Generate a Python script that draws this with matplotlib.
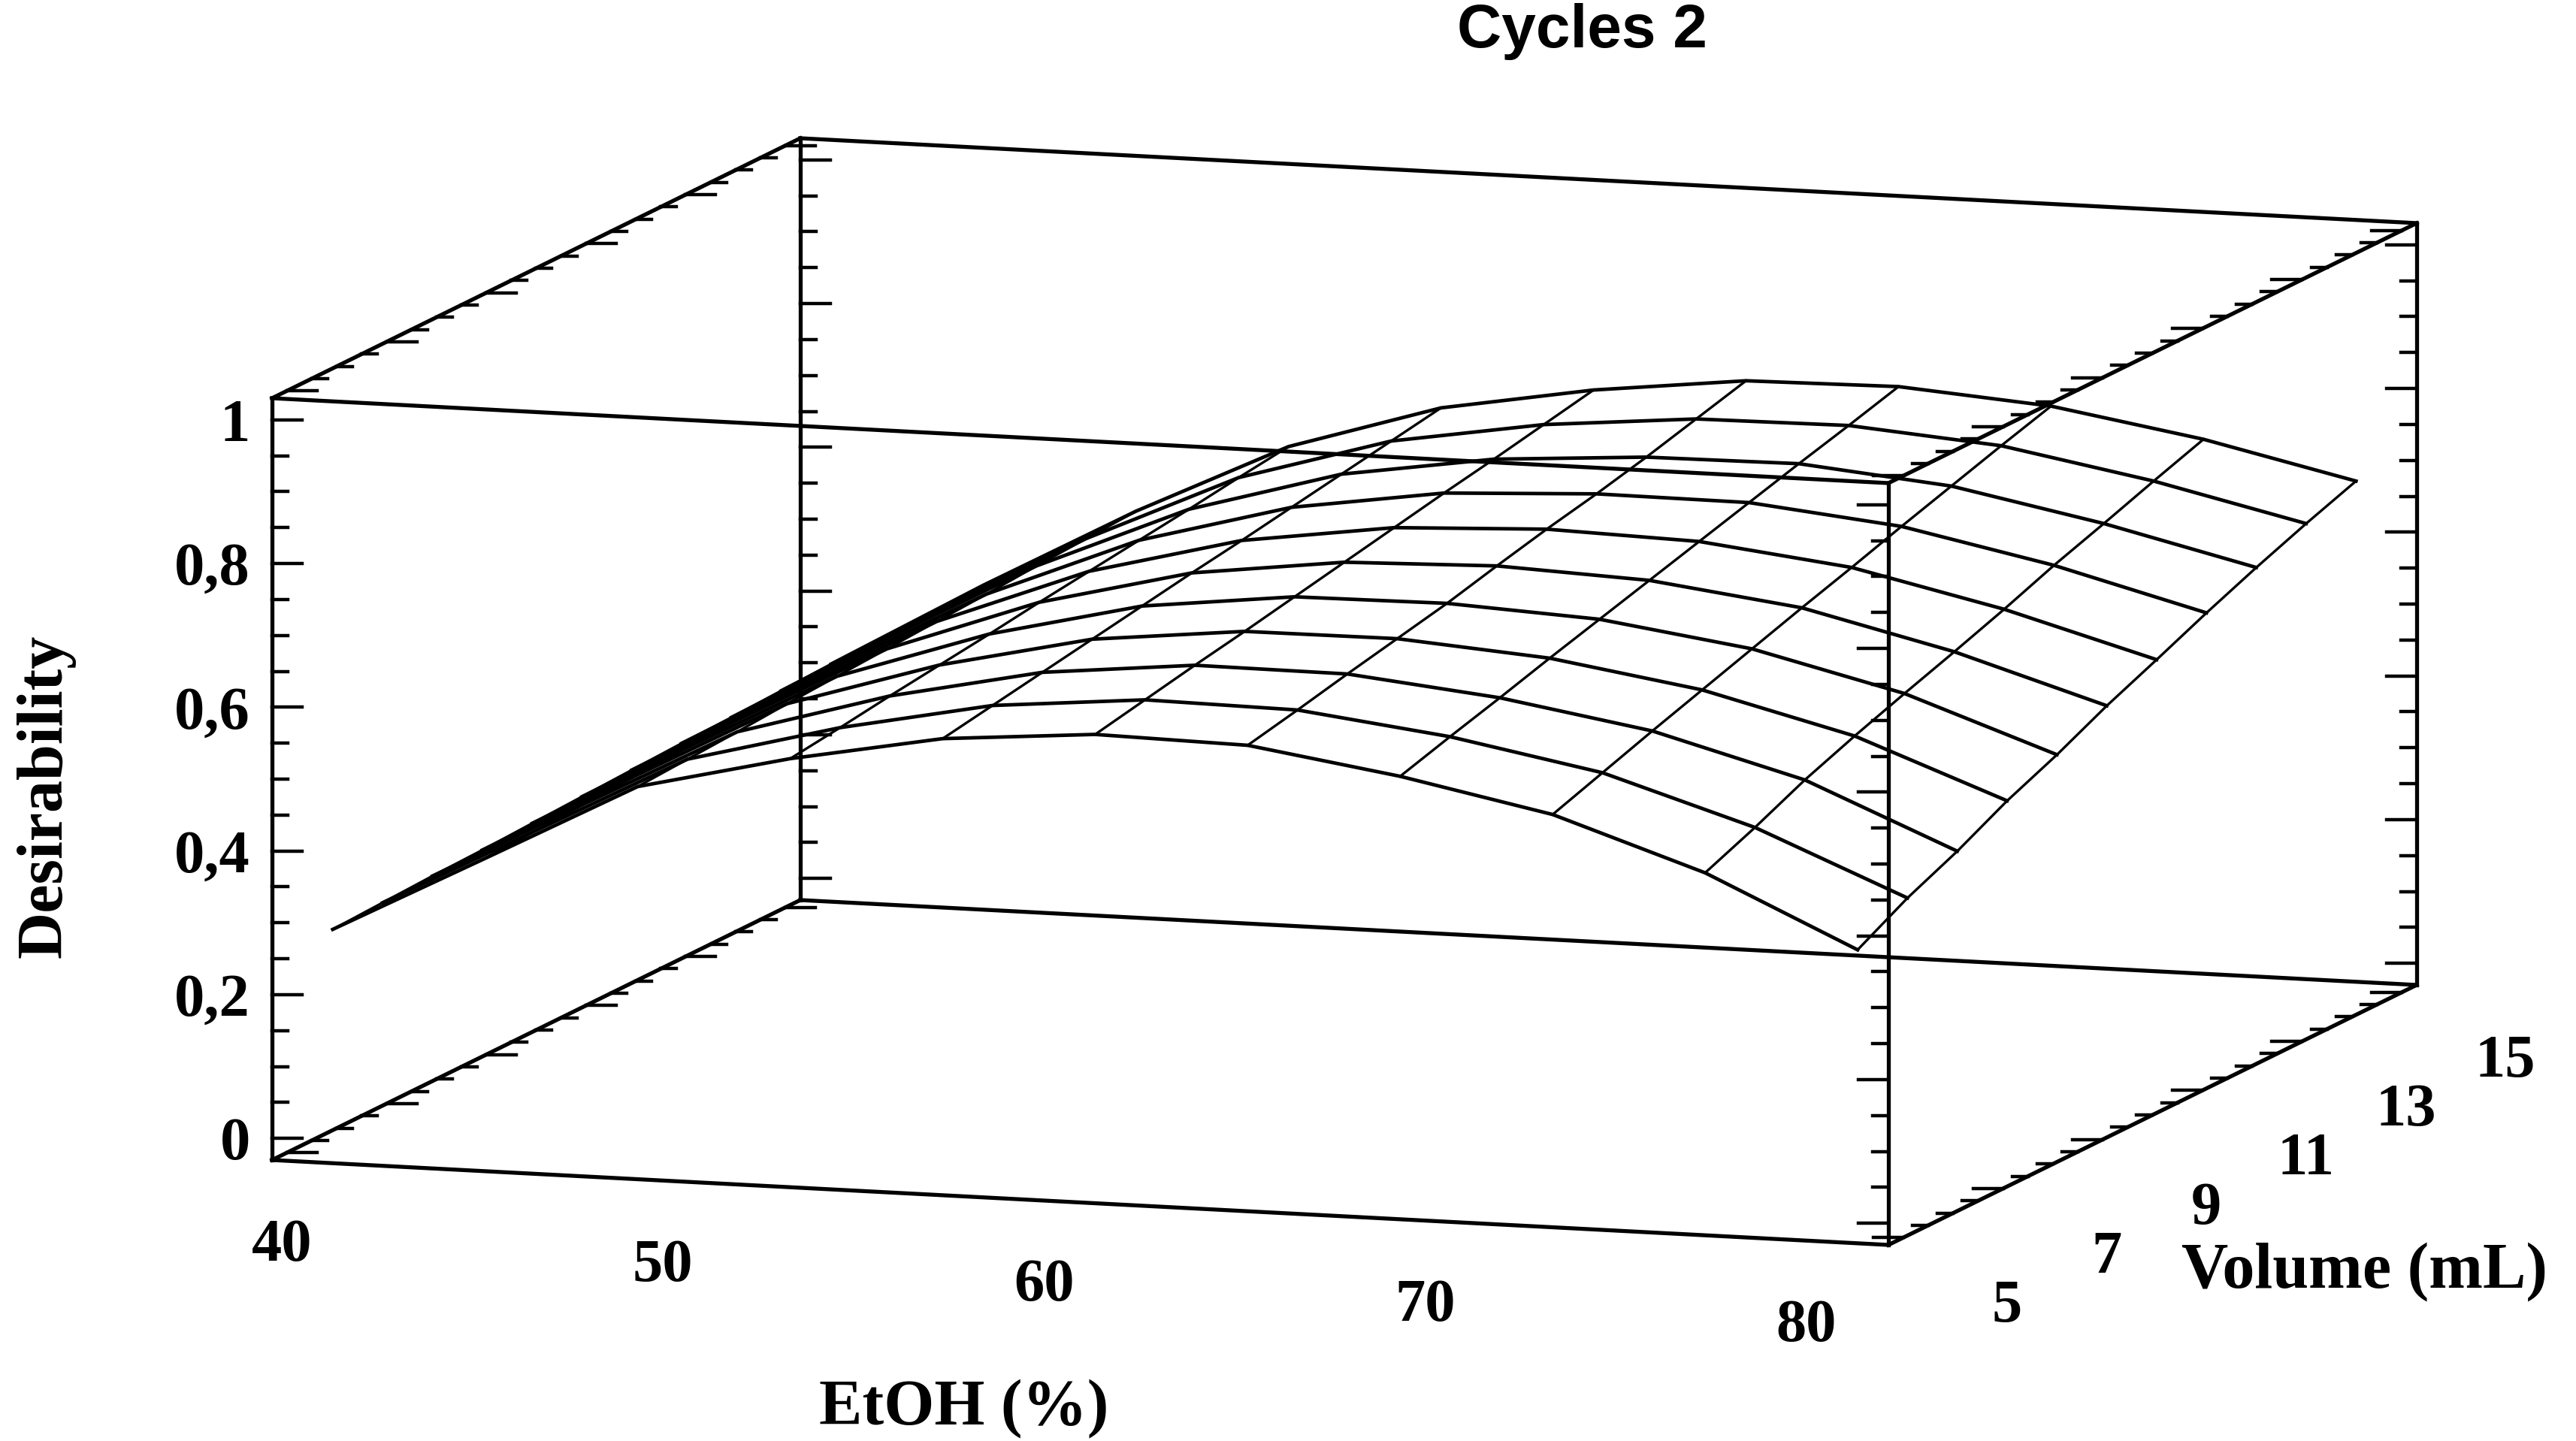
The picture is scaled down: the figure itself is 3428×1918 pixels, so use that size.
import numpy as np
import matplotlib
matplotlib.use("Agg")
import matplotlib.pyplot as plt

# response surface grid (Statgraphics style wireframe)
etoh = [40, 44, 48, 52, 56, 60, 64, 68, 72, 76, 80]
volume = [5, 6, 7, 8, 9, 10, 11, 12, 13, 14, 15]

# desirability, one list per EtOH level (volume 5 -> 15)
d_etoh40 = [0.284, 0.287, 0.290, 0.292, 0.295, 0.298, 0.301, 0.304, 0.306, 0.309, 0.312]
d_etoh44 = [0.394, 0.398, 0.402, 0.406, 0.410, 0.414, 0.417, 0.421, 0.425, 0.429, 0.433]
d_etoh48 = [0.505, 0.509, 0.513, 0.518, 0.522, 0.526, 0.530, 0.534, 0.539, 0.543, 0.547]
d_etoh52 = [0.555, 0.564, 0.574, 0.583, 0.592, 0.602, 0.611, 0.620, 0.629, 0.639, 0.648]
d_etoh56 = [0.594, 0.606, 0.618, 0.630, 0.642, 0.654, 0.665, 0.677, 0.689, 0.701, 0.713]
d_etoh60 = [0.611, 0.625, 0.639, 0.652, 0.666, 0.680, 0.694, 0.708, 0.721, 0.735, 0.749]
d_etoh64 = [0.607, 0.622, 0.638, 0.653, 0.668, 0.686, 0.703, 0.718, 0.735, 0.754, 0.773]
d_etoh68 = [0.575, 0.596, 0.616, 0.637, 0.657, 0.677, 0.697, 0.717, 0.737, 0.756, 0.776]
d_etoh72 = [0.533, 0.557, 0.581, 0.604, 0.627, 0.650, 0.672, 0.695, 0.717, 0.739, 0.760]
d_etoh76 = [0.463, 0.492, 0.524, 0.551, 0.576, 0.600, 0.625, 0.652, 0.676, 0.701, 0.725]
d_etoh80 = [0.367, 0.405, 0.436, 0.472, 0.502, 0.536, 0.566, 0.597, 0.626, 0.653, 0.678]

desir = np.array([d_etoh40, d_etoh44, d_etoh48, d_etoh52, d_etoh56, d_etoh60,
                  d_etoh64, d_etoh68, d_etoh72, d_etoh76, d_etoh80])

etoh_ticks = [40, 50, 60, 70, 80]
vol_ticks = [5, 7, 9, 11, 13, 15]
z_ticks = [0, 0.2, 0.4, 0.6, 0.8, 1.0]
z_ticklabels = ["0", "0,2", "0,4", "0,6", "0,8", "1"]

# axis limits of the box
xlim = (38.8, 81.2)
ylim = (4.7, 15.3)
zlim = (-0.03, 1.03)

# oblique view: screen position of the box corner and the three box edges (pixels)
W, H = 3428, 1918
origin = np.array([362.0, 1544.0])
ex = np.array([2151.0, 113.0])
ey = np.array([703.0, -346.0])
ez = np.array([0.0, -1014.0])


def proj(e, v, z):
    fe = (np.asarray(e, float) - xlim[0]) / (xlim[1] - xlim[0])
    fv = (np.asarray(v, float) - ylim[0]) / (ylim[1] - ylim[0])
    fz = (np.asarray(z, float) - zlim[0]) / (zlim[1] - zlim[0])
    x = origin[0] + fe * ex[0] + fv * ey[0] + fz * ez[0]
    y = origin[1] + fe * ex[1] + fv * ey[1] + fz * ez[1]
    return x, y


fig = plt.figure(figsize=(W / 100, H / 100), dpi=100)
ax = fig.add_axes([0, 0, 1, 1])
ax.set_xlim(0, W)
ax.set_ylim(H, 0)
ax.axis("off")

serif = ["Liberation Serif", "DejaVu Serif"]
box_lw = 3.8
tick_lw = 3.2

# box edges
for e0, v0, z0, e1, v1, z1 in [
    (0, 0, 0, 1, 0, 0), (0, 1, 0, 1, 1, 0), (0, 0, 1, 1, 0, 1), (0, 1, 1, 1, 1, 1),
    (0, 0, 0, 0, 1, 0), (1, 0, 0, 1, 1, 0), (0, 0, 1, 0, 1, 1), (1, 0, 1, 1, 1, 1),
    (0, 0, 0, 0, 0, 1), (1, 0, 0, 1, 0, 1), (0, 1, 0, 0, 1, 1), (1, 1, 0, 1, 1, 1),
]:
    xs, ys = proj([xlim[e0], xlim[e1]], [ylim[v0], ylim[v1]], [zlim[z0], zlim[z1]])
    ax.plot(xs, ys, color="black", lw=box_lw, solid_capstyle="projecting")

# z ticks on the four vertical edges (drawn horizontally on screen)
major_len, minor_len = 40, 21
zt = np.round(np.arange(0, 1.0001, 0.05), 3)
for e, v, sgn in [(xlim[0], ylim[0], 1), (xlim[0], ylim[1], 1),
                  (xlim[1], ylim[0], -1), (xlim[1], ylim[1], -1)]:
    for z in zt:
        ln = major_len if abs(z / 0.2 - round(z / 0.2)) < 1e-6 else minor_len
        x, y = proj(e, v, z)
        ax.plot([x, x + sgn * ln], [y, y], color="black", lw=tick_lw)

# volume ticks on the four slanted edges
vt = np.arange(5, 15.001, 0.5)
for e, z, sgn in [(xlim[0], zlim[0], 1), (xlim[0], zlim[1], 1),
                  (xlim[1], zlim[0], -1), (xlim[1], zlim[1], -1)]:
    for v in vt:
        ln = major_len if (v - 5) % 2 == 0 else minor_len
        x, y = proj(e, v, z)
        ax.plot([x, x + sgn * ln], [y, y], color="black", lw=tick_lw)

# wireframe surface
for i, e in enumerate(etoh):
    xs, ys = proj(np.full(len(volume), e), volume, desir[i])
    ax.plot(xs, ys, color="black", lw=2.4)
for j, v in enumerate(volume):
    xs, ys = proj(etoh, np.full(len(etoh), v), desir[:, j])
    ax.plot(xs, ys, color="black", lw=3.4, solid_joinstyle="round")

# tick labels
tick_fs = 58
for z, lab in zip(z_ticks, z_ticklabels):
    x, y = proj(xlim[0], ylim[0], z)
    ax.text(x - 29, y, lab, ha="right", va="center_baseline", fontsize=tick_fs,
            fontweight="bold", family=serif)
for e in etoh_ticks:
    x, y = proj(e, ylim[0], zlim[0])
    ax.text(x - 48, y + 103, str(e), ha="center", va="center_baseline", fontsize=tick_fs,
            fontweight="bold", family=serif)
for v in vol_ticks:
    x, y = proj(xlim[1], v, zlim[0])
    ax.text(x + 138, y + 84, str(v), ha="center", va="center_baseline", fontsize=tick_fs,
            fontweight="bold", family=serif)

# axis titles
lab_fs = 62
ax.text(61, 1060, "Desirability", rotation=90, ha="center", va="center",
        fontsize=lab_fs, fontweight="bold", family=serif)
ax.text(1283, 1865, "EtOH (%)", ha="center", va="center_baseline",
        fontsize=lab_fs, fontweight="bold", family=serif)
ax.text(2903, 1683, "Volume (mL)", ha="left", va="center_baseline",
        fontsize=lab_fs, fontweight="bold", family=serif)
ax.text(2105, 42, "Cycles 2", ha="center", va="center", fontsize=59,
        fontweight="bold", family=["Liberation Sans", "DejaVu Sans"])

fig.savefig("out.png", dpi=100, facecolor="white")
